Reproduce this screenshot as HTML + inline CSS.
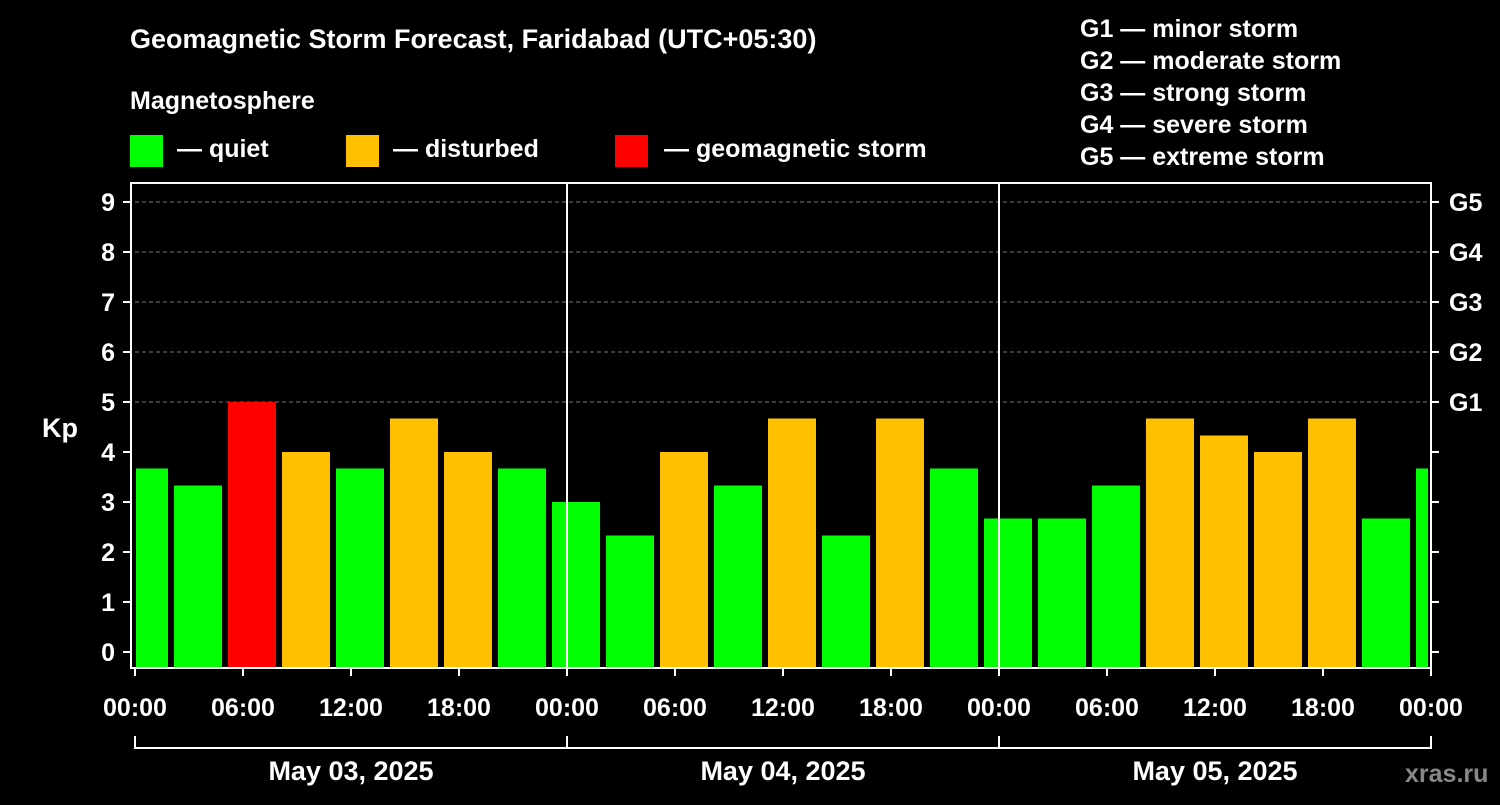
<!DOCTYPE html>
<html><head><meta charset="utf-8"><style>
body{margin:0;background:#000;}
svg text{font-family:"Liberation Sans",sans-serif;font-weight:bold;fill:#fff;}
</style></head><body>
<svg id="c" width="1500" height="800" xmlns="http://www.w3.org/2000/svg">
<rect width="1500" height="800" fill="#000"/>
<text x="130" y="48" font-size="27">Geomagnetic Storm Forecast, Faridabad (UTC+05:30)</text>
<text x="130" y="109" font-size="25">Magnetosphere</text>
<g><rect x="130" y="135" width="33" height="32" fill="#00ff00"/><text x="177" y="157" font-size="25">— quiet</text></g>
<g><rect x="346" y="135" width="33" height="32" fill="#ffc000"/><text x="393" y="157" font-size="25">— disturbed</text></g>
<g><rect x="615" y="135" width="33" height="32" fill="#ff0000"/><text x="664" y="157" font-size="25">— geomagnetic storm</text></g>
<g font-size="25">
<text x="1080" y="37">G1 — minor storm</text>
<text x="1080" y="69">G2 — moderate storm</text>
<text x="1080" y="101">G3 — strong storm</text>
<text x="1080" y="133">G4 — severe storm</text>
<text x="1080" y="165">G5 — extreme storm</text>
</g>
<text x="42" y="437" font-size="27">Kp</text>
<text x="1405" y="782" font-size="25" fill="#888" style="fill:#888">xras.ru</text>
<g id="marks"></g>
</svg>
<script>
const kpValues=[3.67,3.33,5,4,3.67,4.67,4,3.67,3,2.33,4,3.33,4.67,2.33,4.67,3.67,2.67,2.67,3.33,4.67,4.33,4,4.67,2.67,3.67];
const yTicks=[0,1,2,3,4,5,6,7,8,9];
const gLabels=["G1","G2","G3","G4","G5"];
const xTickLabels=["00:00","06:00","12:00","18:00","00:00","06:00","12:00","18:00","00:00","06:00","12:00","18:00","00:00"];
const dayLabels=["May 03, 2025","May 04, 2025","May 05, 2025"];
const NS="http://www.w3.org/2000/svg";
const g=document.getElementById('marks');
const L=135,R=1431,T=183,B=668;
const y=k=>652-50*k;
const xh=h=>L+18*h; // hours since start
function el(t,a,p){const e=document.createElementNS(NS,t);for(const k in a)e.setAttribute(k,a[k]);(p||g).appendChild(e);return e;}
// grid
[5,6,7,8,9].forEach(k=>{const l=el('line',{x1:L,x2:R,y1:y(k),y2:y(k),stroke:'#777','stroke-dasharray':'4,3','stroke-width':1});

});
// bars
kpValues.forEach((v,i)=>{
 const h0=-1+3*i; let x0=xh(h0)+3, x1=xh(h0+3)-3;
 x0=Math.max(x0,L+1); x1=Math.min(x1,R-3);
 const c=v>=5?'#ff0000':(v>=4?'#ffc000':'#00ff00');
 const r=el('rect',{x:x0,y:y(v),width:x1-x0,height:B-y(v),fill:c});
 
 
});
// frame
const f=el('rect',{x:L-4,y:T,width:R-L+4,height:B-T,fill:'none',stroke:'#fff','stroke-width':2});


[1,2].forEach(d=>{const l=el('line',{x1:xh(24*d),x2:xh(24*d),y1:T,y2:B,stroke:'#fff','stroke-width':2});

});
// y ticks
yTicks.forEach(k=>{
 el('line',{x1:L-12,x2:L-4,y1:y(k),y2:y(k),stroke:'#fff','stroke-width':2});
 el('line',{x1:R,x2:R+8,y1:y(k),y2:y(k),stroke:'#fff','stroke-width':2});
 const t=el('text',{x:L-20,y:y(k)+9,'font-size':25,'text-anchor':'end'});t.textContent=k;
 
 
});
gLabels.forEach((s,i)=>{const t=el('text',{x:1449,y:y(5+i)+9,'font-size':25});t.textContent=s;
 
 });
// x ticks
xTickLabels.forEach((s,i)=>{const x=xh(6*i);
 el('line',{x1:x,x2:x,y1:B,y2:B+8,stroke:'#fff','stroke-width':2});
 const t=el('text',{x:x,y:716,'font-size':25,'text-anchor':'middle'});t.textContent=s;
 
 });
el('line',{x1:L,x2:R,y1:748,y2:748,stroke:'#fff','stroke-width':2});
[0,1,2,3].forEach(d=>el('line',{x1:xh(24*d),x2:xh(24*d),y1:736,y2:749,stroke:'#fff','stroke-width':2}));
dayLabels.forEach((s,i)=>{const t=el('text',{x:xh(24*i+12),y:780,'font-size':27,'text-anchor':'middle'});t.textContent=s;
 
 });
</script>
</body></html>
